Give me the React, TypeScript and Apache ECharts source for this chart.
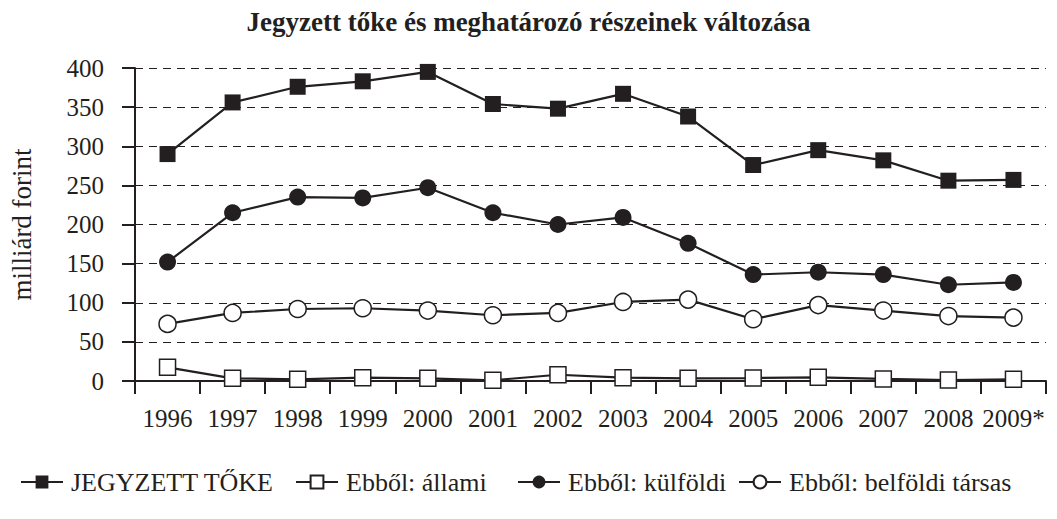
import React, { useEffect, useRef } from "react";
import * as echarts from "echarts";

const years = ["1996", "1997", "1998", "1999", "2000", "2001", "2002", "2003", "2004", "2005", "2006", "2007", "2008", "2009*"];
const jegyzettToke = [290, 356, 376, 383, 395, 354, 348, 367, 338, 276, 295, 282, 256, 257];
const allami = [17.5, 3.4, 2.1, 4.3, 3.4, 0.9, 8, 4.3, 3.4, 3.8, 4.7, 2.6, 1.3, 2.1];
const kulfoldi = [152, 215, 235, 234, 247, 215, 200, 209, 176, 136, 139, 136, 123, 126];
const belfoldi = [73, 87, 92, 93, 90, 84, 87, 101, 104, 79, 97, 90, 83, 81];
const seriesNames = ["JEGYZETT TŐKE", "Ebből: állami", "Ebből: külföldi", "Ebből: belföldi társas"];
const yTicks = [0, 50, 100, 150, 200, 250, 300, 350, 400];

const INK = "#231f20";
const FONT = "'Liberation Serif', 'Times New Roman', serif";
const legendLefts = [20, 295, 517, 738];

export default function App() {
  const ref = useRef<HTMLDivElement>(null);
  useEffect(() => {
    if (!ref.current) return;
    const chart = echarts.init(ref.current, null, { renderer: "svg" });
    const mk = (name: string, data: number[], symbol: string, filled: boolean, size: number) => ({
      name,
      type: "line",
      data,
      symbol,
      symbolSize: size,
      showAllSymbol: true,
      lineStyle: { color: INK, width: 2.2 },
      itemStyle: {
        color: filled ? INK : "#ffffff",
        borderColor: INK,
        borderWidth: filled ? 0 : 1.5,
      },
      emphasis: { disabled: true },
    });
    chart.setOption({
      animation: false,
      backgroundColor: "#ffffff",
      textStyle: { fontFamily: FONT, color: INK },
      title: {
        text: "Jegyzett tőke és meghatározó részeinek változása",
        left: "center",
        top: 3,
        textStyle: { fontFamily: FONT, fontSize: 27, fontWeight: "bold", color: INK },
      },
      grid: { left: 129, right: 11, top: 68, bottom: 138, containLabel: false },
      legend: seriesNames.map((n, i) => ({
        data: [n],
        top: 469,
        left: legendLefts[i],
        itemWidth: 42,
        itemHeight: 16,
        padding: 0,
        textStyle: { fontFamily: FONT, fontSize: 26, color: INK, padding: [0, 0, 0, 3] },
      })),
      xAxis: {
        type: "category",
        data: years,
        boundaryGap: true,
        axisLine: { show: true, lineStyle: { color: INK, width: 2 } },
        axisTick: { show: true, inside: false, length: 13, interval: 0, lineStyle: { color: INK, width: 2 } },
        axisLabel: { interval: 0, margin: 25, fontFamily: FONT, fontSize: 25, color: INK },
      },
      yAxis: {
        type: "value",
        min: yTicks[0],
        max: yTicks[yTicks.length - 1],
        interval: 50,
        name: "milliárd forint",
        nameLocation: "middle",
        nameRotate: 90,
        nameGap: 100,
        nameTextStyle: { fontFamily: FONT, fontSize: 27, color: INK },
        axisLine: { show: true, lineStyle: { color: INK, width: 2 } },
        axisTick: { show: true, inside: false, length: 13, lineStyle: { color: INK, width: 2 } },
        axisLabel: { margin: 31, fontFamily: FONT, fontSize: 25, color: INK },
        splitLine: { show: true, lineStyle: { color: INK, width: 1, type: [8, 6] } },
      },
      series: [
        mk(seriesNames[0], jegyzettToke, "rect", true, 16),
        mk(seriesNames[1], allami, "rect", false, 16),
        mk(seriesNames[2], kulfoldi, "circle", true, 17),
        mk(seriesNames[3], belfoldi, "circle", false, 17),
      ],
    });
    return () => chart.dispose();
  }, []);
  return (
    <div
      ref={ref}
      style={{ position: "fixed", left: 0, top: 0, width: 1057, height: 519, background: "#fff" }}
    />
  );
}
